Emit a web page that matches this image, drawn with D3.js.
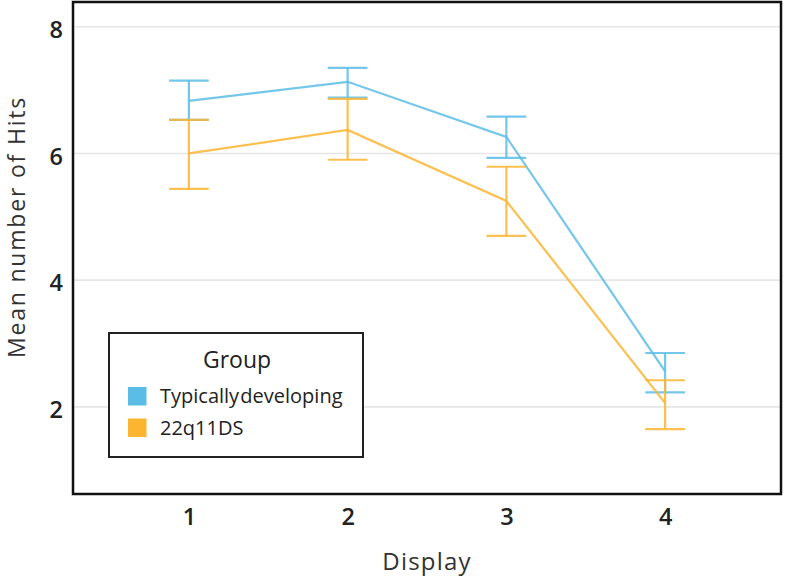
<!DOCTYPE html>
<meta charset="utf-8">
<style>
body { margin: 0; background: #fff; }
text { font-family: "Open Sans", "DejaVu Sans", sans-serif; }
.tick text { font-size: 23.5px; font-weight: 600; fill: #222; }
.axis-title { font-size: 24px; fill: #333; }
.legend-title { font-size: 23px; fill: #222; }
.legend-label { font-size: 20px; fill: #222; }
</style>
<svg width="786" height="578"></svg>
<script src="https://d3js.org/d3.v7.min.js"></script>
<script>

var displays = [1, 2, 3, 4]
var groups = ["Typically developing", "22q11DS"]
var colors = ["#5bbde6", "#fbb531"]

// means and error bar ends
var tdMean  = [6.83, 7.13, 6.26, 2.56]
var tdHigh  = [7.15, 7.35, 6.58, 2.85]
var tdLow   = [6.53, 6.88, 5.93, 2.23]
var dsMean  = [6.00, 6.37, 5.25, 2.06]
var dsHigh  = [6.53, 6.86, 5.79, 2.42]
var dsLow   = [5.44, 5.90, 4.70, 1.65]

var yTicks = [2, 4, 6, 8]

var series = [
  {name: groups[0], color: colors[0], mean: tdMean, high: tdHigh, low: tdLow},
  {name: groups[1], color: colors[1], mean: dsMean, high: dsHigh, low: dsLow}
]

var svg = d3.select("svg")
// panel edges (note: "top" is taken by window.top)
var pLeft = 73, pRight = 781, pTop = 2, pBottom = 494

var x = d3.scaleLinear().domain([0.27, 4.73]).range([pLeft, pRight])
var y = d3.scaleLinear().domain([0.625, 8.39]).range([pBottom, pTop])

// grid
svg.append("g").selectAll("line").data(yTicks).enter().append("line")
  .attr("x1", pLeft).attr("x2", pRight)
  .attr("y1", function(d){ return y(d) }).attr("y2", function(d){ return y(d) })
  .attr("stroke", "#e6e6e6").attr("stroke-width", 1.6)

var capHalf = x(1.125) - x(1)

series.forEach(function(s){
  var g = svg.append("g").attr("stroke", s.color).attr("stroke-opacity", 0.85)
    .attr("stroke-width", 2.2).attr("fill", "none")

  var line = d3.line().x(function(d, i){ return x(displays[i]) }).y(function(d){ return y(d) })
  g.append("path").attr("d", line(s.mean))

  displays.forEach(function(d, i){
    g.append("line").attr("x1", x(d)).attr("x2", x(d)).attr("y1", y(s.low[i])).attr("y2", y(s.high[i]))
    g.append("line").attr("x1", x(d) - capHalf).attr("x2", x(d) + capHalf).attr("y1", y(s.low[i])).attr("y2", y(s.low[i]))
    g.append("line").attr("x1", x(d) - capHalf).attr("x2", x(d) + capHalf).attr("y1", y(s.high[i])).attr("y2", y(s.high[i]))
  })
})

// panel border
svg.append("rect").attr("x", pLeft).attr("y", pTop).attr("width", pRight - pLeft).attr("height", pBottom - pTop)
  .attr("fill", "none").attr("stroke", "#111").attr("stroke-width", 2.5)

// axes
var xAxis = svg.append("g").attr("transform", "translate(0," + pBottom + ")")
  .call(d3.axisBottom(x).tickValues(displays).tickSize(0).tickPadding(14).tickFormat(d3.format("d")))
xAxis.select(".domain").remove()

var yAxis = svg.append("g").attr("transform", "translate(" + pLeft + ",0)")
  .call(d3.axisLeft(y).tickValues(yTicks).tickSize(0).tickPadding(10).tickFormat(d3.format("d")))
yAxis.select(".domain").remove()
yAxis.selectAll("text").attr("dy", "0.45em")

svg.append("text").attr("class", "axis-title").attr("x", (pLeft + pRight) / 2).attr("y", 570)
  .attr("text-anchor", "middle").attr("letter-spacing", "1.2px").text("Display")

svg.append("text").attr("class", "axis-title").attr("text-anchor", "middle")
  .attr("letter-spacing", "1.8px").style("font-size", "23px")
  .attr("transform", "translate(25,227) rotate(-90)")
  .text("Mean number of Hits")

// legend
var lg = svg.append("g")
lg.append("rect").attr("x", 109).attr("y", 333).attr("width", 254).attr("height", 124)
  .attr("fill", "#fff").attr("stroke", "#222").attr("stroke-width", 2)
lg.append("text").attr("class", "legend-title").attr("x", 237).attr("y", 368)
  .attr("text-anchor", "middle").text("Group")
series.forEach(function(s, i){
  lg.append("rect").attr("x", 128).attr("y", 387 + i * 31.5).attr("width", 18.5).attr("height", 18.5)
    .attr("fill", s.color)
  lg.append("text").attr("class", "legend-label").attr("x", 160).attr("y", 403 + i * 32)
    .attr("word-spacing", "-4px").text(s.name)
})

</script>
